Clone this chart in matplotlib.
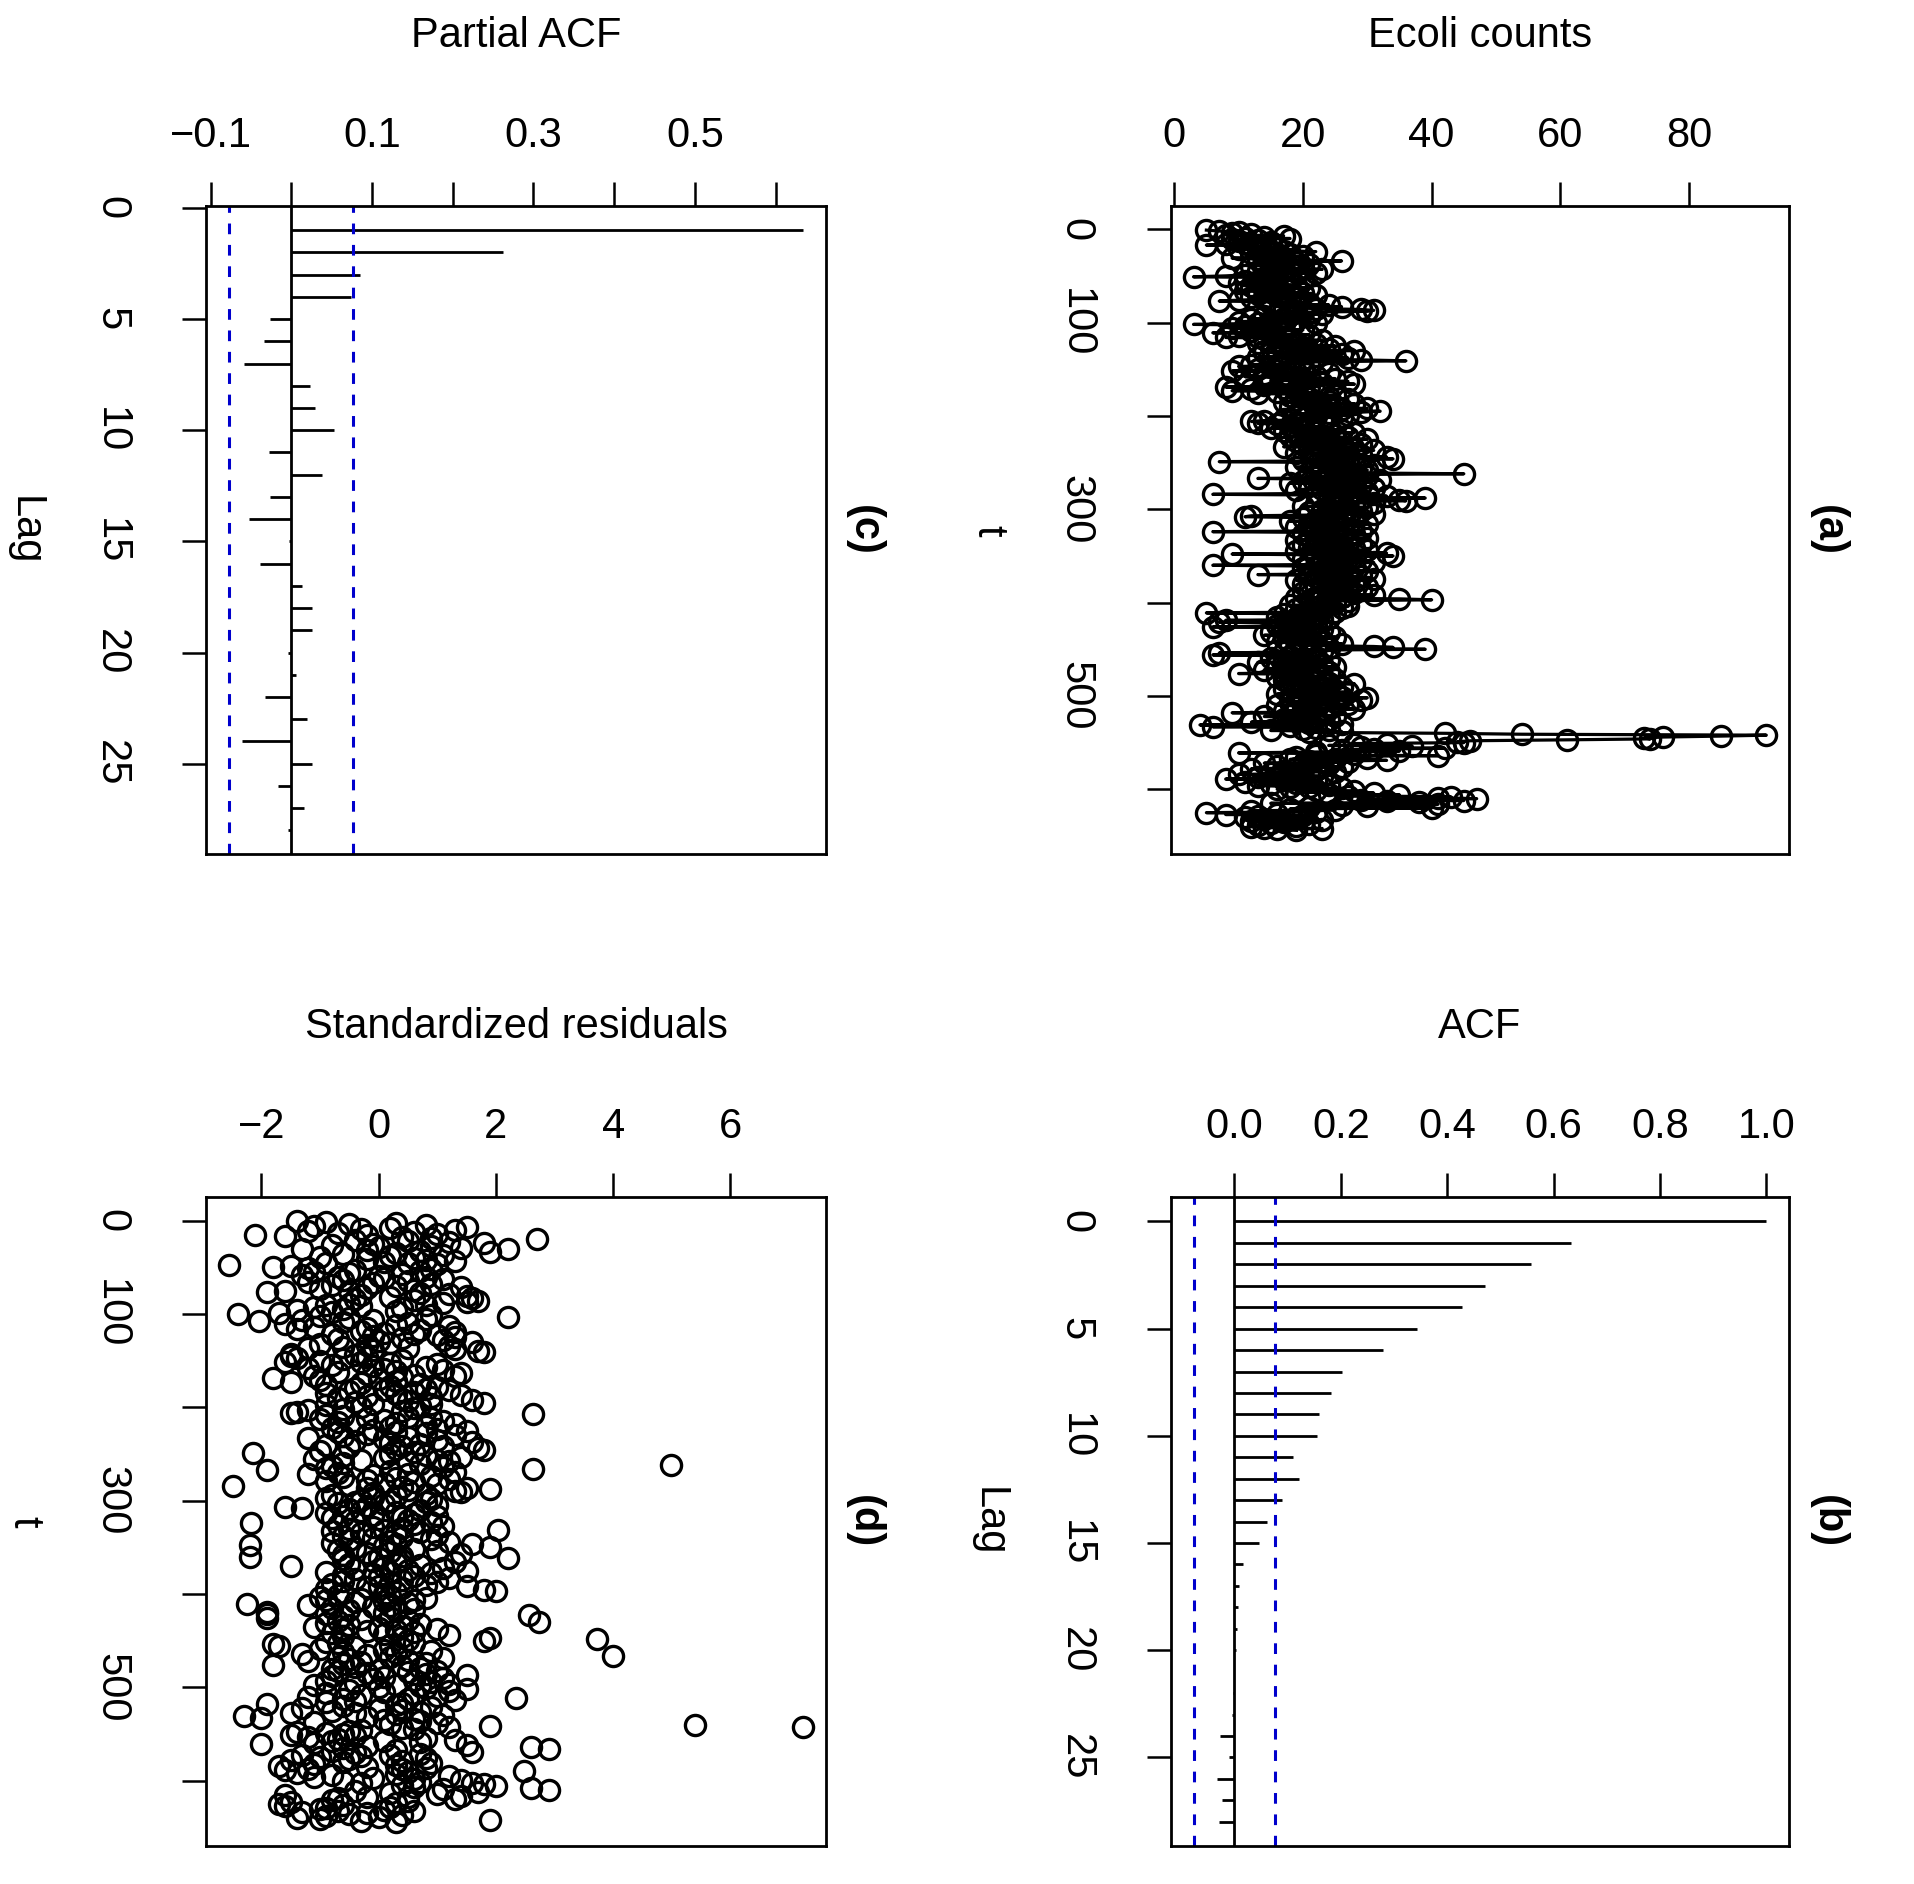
import numpy as np
import matplotlib
matplotlib.use("Agg")
from matplotlib import pyplot as plt

plt.rcParams['font.family'] = ['Liberation Sans', 'DejaVu Sans']

# weekly Ecoli counts
counts = [
    5, 7, 10, 9, 12, 8, 17, 14, 11, 18, 9, 13, 10, 15, 11, 8, 5, 12, 14, 16,
    10, 13, 17, 22, 15, 12, 18, 14, 20, 16, 9, 13, 17, 26, 19, 14, 21, 16, 12, 18,
    15, 20, 23, 17, 13, 19, 22, 16, 11, 8, 3, 18, 14, 20, 11, 13, 17, 10, 15, 19,
    12, 16, 21, 14, 18, 11, 15, 20, 13, 17, 22, 16, 12, 19, 14, 10, 7, 18, 21, 15,
    24, 19, 26, 17, 22, 29, 31, 30, 20, 16, 23, 18, 14, 21, 17, 12, 19, 15, 10, 22,
    13, 3, 16, 11, 18, 9, 14, 20, 12, 17, 6, 15, 21, 10, 13, 8, 18, 14, 23, 16,
    19, 13, 22, 17, 25, 20, 15, 24, 18, 28, 21, 14, 19, 26, 16, 22, 13, 27, 20, 29,
    36, 23, 17, 21, 12, 18, 10, 15, 20, 13, 16, 9, 19, 24, 14, 17, 22, 11, 18, 25,
    20, 15, 27, 18, 23, 28, 14, 21, 8, 17, 12, 19, 9, 16, 22, 13, 20, 25, 18, 24,
    21, 27, 19, 24, 17, 22, 28, 20, 25, 18, 23, 30, 26, 21, 32, 29, 24, 19, 27, 22,
    26, 20, 17, 23, 14, 12, 19, 13, 16, 21, 18, 24, 15, 20, 26, 17, 22, 28, 19, 25,
    23, 18, 27, 21, 30, 24, 19, 26, 22, 29, 20, 25, 17, 23, 28, 21, 31, 24, 27, 19,
    25, 29, 22, 33, 26, 34, 20, 27, 7, 24, 28, 22, 31, 25, 19, 29, 23, 30, 26, 21,
    27, 45, 24, 30, 22, 28, 13, 25, 32, 20, 27, 18, 24, 29, 21, 26, 31, 23, 19, 28,
    25, 30, 22, 6, 27, 33, 24, 39, 29, 35, 36, 26, 31, 22, 28, 25, 20, 30, 24, 27,
    23, 29, 21, 26, 31, 24, 12, 11, 20, 27, 22, 25, 18, 28, 23, 30, 21, 26, 19, 24,
    27, 22, 29, 6, 25, 20, 28, 23, 26, 21, 30, 24, 19, 27, 22, 25, 29, 20, 26, 23,
    28, 21, 25, 30, 19, 26, 33, 9, 24, 34, 22, 27, 20, 29, 25, 23, 31, 21, 26, 6,
    24, 28, 20, 26, 23, 30, 25, 21, 27, 13, 24, 29, 22, 26, 31, 19, 25, 28, 23, 20,
    27, 24, 30, 22, 26, 21, 29, 25, 20, 28, 24, 31, 23, 26, 19, 35, 40, 27, 22, 25,
    20, 24, 18, 27, 22, 26, 19, 23, 21, 25, 5, 17, 22, 20, 16, 24, 19, 23, 8, 21,
    7, 18, 22, 16, 20, 6, 19, 23, 17, 21, 15, 24, 18, 22, 14, 20, 25, 17, 21, 19,
    23, 16, 20, 26, 18, 22, 31, 34, 24, 39, 19, 23, 17, 7, 21, 6, 18, 22, 15, 20,
    24, 17, 21, 13, 19, 23, 16, 20, 25, 18, 22, 14, 19, 24, 17, 10, 21, 18, 23, 16,
    20, 25, 17, 22, 19, 24, 28, 18, 21, 26, 20, 23, 17, 25, 19, 27, 22, 16, 24, 21,
    26, 30, 20, 29, 23, 18, 25, 21, 27, 16, 22, 19, 24, 28, 20, 17, 23, 9, 21, 18,
    25, 14, 20, 22, 17, 24, 19, 12, 21, 26, 4, 18, 6, 22, 20, 24, 15, 26, 21, 42,
    54, 92, 85, 76, 73, 74, 61, 46, 44, 45, 28, 33, 24, 37, 29, 42, 31, 26, 35, 22,
    10, 28, 22, 41, 19, 30, 25, 18, 33, 21, 27, 14, 24, 20, 16, 26, 19, 12, 22, 17,
    25, 15, 21, 10, 18, 23, 13, 20, 8, 17, 22, 11, 19, 15, 24, 13, 18, 21, 26, 16,
    22, 28, 19, 31, 24, 35, 27, 43, 41, 47, 29, 45, 33, 38, 15, 41, 26, 30, 21, 40,
    18, 25, 12, 22, 5, 16, 8, 20, 13, 11, 19, 14, 23, 12, 17, 15, 21, 13, 19, 12,
    14, 23, 16, 19,
]

# standardized residuals (panel d)
resid = [
    -1.4, -0.9, 0.3, -0.5, 0.8, -1.1, 1.5, 0.2, -0.3, 1.3, -1.2, 0.6, -0.7, 1.0, -0.2, -2.1, -1.6, 0.4, 0.9, 2.7,
    -0.4, 0.5, 1.2, 1.8, -0.1, -0.8, 0.9, 0.0, 1.4, 2.2, -1.3, -0.2, 0.7, 1.9, 0.3, -0.6, 1.1, 0.2, -1.0, 0.6,
    -0.2, 0.8, 1.3, 0.1, -0.9, 0.5, 1.0, -2.55, -1.5, -1.8, -1.2, 0.9, -0.4, 0.7, -1.1, -0.5, 0.4, -1.3, 0.0, 0.8,
    -0.7, 0.1, 1.1, -0.6, 0.5, -1.2, -0.1, 0.9, -0.8, 0.3, 1.4, -0.2, -1.0, 0.6, -0.5, -1.6, -1.9, 0.7, 1.2, -0.3,
    1.5, 0.2, 1.6, -0.4, 0.6, 1.7, 1.5, 1.1, -0.5, -0.9, 0.8, -0.3, -1.1, 0.4, -0.6, -1.4, 0.3, -0.8, -1.7, -2.4,
    0.9, -1.0, 2.2, -0.5, 0.8, -1.3, -0.1, -2.04, -0.6, 0.5, -1.6, 0.3, 1.2, -1.1, -0.2, -1.4, 0.7, -0.3, 1.3, 0.1,
    0.6, -0.8, 1.0, -0.1, 1.3, 0.4, -0.7, 1.1, 0.0, 1.6, 0.2, -1.0, -0.2, 1.2, -0.6, 0.5, -1.2, 1.3, -0.1, 1.7,
    1.8, -0.3, -1.5, -0.4, -1.5, -0.2, -1.4, -0.6, 0.4, -1.0, -0.3, -1.6, 0.2, 1.0, -0.8, -0.1, 0.8, -1.2, 0.1, 1.1,
    0.3, -0.7, 1.4, -0.2, 0.6, 1.3, -1.1, 0.4, -1.8, 0.0, -1.0, 0.3, -1.5, -0.3, 0.7, -0.9, 0.2, 1.0, -0.4, 0.8,
    0.1, 1.2, -0.5, 0.6, -0.9, 0.3, 1.4, -0.2, 0.9, -0.7, 0.4, 1.6, 0.5, -0.4, 1.8, 0.9, -0.1, -0.9, 0.7, -0.3,
    0.6, -0.6, -1.2, 0.4, -1.4, -1.5, 2.63, -0.9, -0.6, 0.5, -0.2, 0.9, -1.0, 0.1, 1.1, -0.7, 0.3, 1.3, -0.4, 0.8,
    0.2, -0.8, 1.0, -0.1, 1.5, 0.3, -0.7, 0.8, -0.2, 1.3, -0.6, 0.5, -1.2, 0.1, 1.0, -0.4, 1.6, 0.2, 0.7, -0.9,
    0.4, 1.1, -0.5, 1.7, 0.3, 1.8, -1.0, 0.6, -2.15, 0.2, 0.8, -0.6, 1.4, 0.1, -1.1, 1.0, -0.3, 1.2, 0.5, -0.6,
    0.7, 4.99, -0.8, 1.1, -0.9, 2.63, -1.9, 0.2, 1.3, -0.7, 0.5, -1.2, -0.1, 0.9, -0.6, 0.3, 1.2, -0.2, -0.9, 0.6,
    0.1, 1.0, -0.5, -2.48, 0.4, 1.5, -0.2, 1.9, 0.5, 1.3, 1.4, -0.1, 0.8, -0.8, 0.3, -0.1, -0.9, 0.9, -0.3, 0.2,
    -0.4, 0.8, -0.7, 0.1, 1.0, -0.2, -1.6, -1.3, -0.5, 0.7, -0.3, 0.3, -0.9, 0.6, -0.1, 1.0, -0.6, 0.4, -0.8, 0.0,
    0.5, -0.4, 0.9, -2.17, 0.6, -0.7, 1.1, -0.1, 0.4, -0.5, 2.04, 0.1, -0.8, 0.7, -0.3, 0.3, 1.0, -0.6, 0.4, -0.1,
    0.9, -0.5, 0.2, 1.2, -0.8, 0.3, 1.6, -2.2, 0.1, 1.9, -0.4, 0.6, -0.7, 1.0, 0.2, -0.2, 1.4, -0.6, 0.4, -2.2,
    0.0, 2.2, -0.6, 0.4, -0.1, 1.3, 0.3, -0.5, 0.7, -1.5, 0.1, 1.1, -0.4, 0.5, 1.5, -0.9, 0.2, 0.9, -0.1, -0.6,
    0.6, 0.0, 1.2, -0.4, 0.4, -0.6, 1.0, 0.2, -0.8, 0.8, 0.0, 1.5, -0.2, 0.4, -0.9, 1.8, 2.0, 0.3, -0.6, 0.1,
    -0.7, 0.2, -1.0, 0.8, -0.3, 0.6, -0.9, 0.1, -0.4, 0.5, -2.25, -1.2, 0.2, -0.1, -0.8, 0.6, -0.5, 0.3, -1.9, 0.1,
    -1.9, -0.9, 2.57, -0.6, 0.2, -1.9, -0.3, 0.5, -0.7, 2.74, -0.9, 0.7, -0.5, 0.4, -1.1, 0.0, 1.0, -0.6, 0.3, -0.2,
    0.6, -0.8, 0.1, 1.2, -0.6, 0.4, 1.9, 3.73, 0.5, 1.8, -0.9, 0.6, -0.7, -1.8, 0.2, -1.7, -0.4, 0.4, -1.0, 0.1,
    0.9, -0.6, 0.3, -1.3, -0.2, 4.0, -0.7, 0.2, 1.1, -0.5, 0.5, -1.2, -0.3, 0.8, -0.6, -1.8, 0.4, -0.4, 0.7, -0.8,
    0.0, 1.0, -0.7, 0.5, -0.2, 0.8, 1.5, -0.8, 0.1, 1.1, -0.1, 0.6, -0.9, 0.9, -0.4, 1.2, 0.3, -1.1, 0.7, 0.0,
    0.8, 1.5, -0.5, 1.2, 0.1, -0.9, 0.6, -0.3, 1.0, -1.2, 2.34, -0.6, 0.5, 1.3, -0.4, -0.9, 0.4, -1.9, 0.3, -0.6,
    0.9, -1.3, 0.0, 0.4, -0.8, 0.7, -0.4, -1.5, 0.3, 1.1, -2.3, -0.2, -2.0, 0.6, 0.1, 0.7, -1.1, 1.0, 0.2, 5.39,
    1.9, 7.24, 1.2, 0.4, 0.6, -0.3, -0.5, -1.4, -0.9, -0.6, -1.5, -0.4, -1.2, 0.8, -0.7, 1.3, 0.1, -0.8, 0.7, -1.1,
    -2.0, 1.5, -0.2, 2.6, -0.6, 2.9, 0.3, -0.8, 1.6, -0.4, 0.7, -1.3, 0.2, -0.3, -1.0, 0.8, -0.5, -1.5, 0.4, -0.6,
    0.9, -1.1, 0.3, -1.7, -0.2, 0.8, -1.2, 0.4, -1.6, 2.48, 0.5, -1.4, 0.3, -0.8, 1.2, -1.1, -0.1, 0.6, 1.4, -0.6,
    0.7, 1.6, -0.3, 1.8, 0.4, 2.0, 0.6, 2.6, 1.1, 2.9, -0.4, 1.7, 0.2, 1.0, -1.6, 1.4, -0.2, 0.5, -0.7, 1.3,
    -0.8, 0.5, -1.5, 0.3, -1.7, -0.6, -1.6, 0.2, -0.9, -1.0, 0.1, -0.7, 0.6, -1.3, -0.2, -0.5, 0.4, -0.9, 0.0, -1.4,
    -1.0, 1.9, -0.3, 0.3,
]

# ACF of residuals (panel b), lags 0..28
acf_vals = [1.0, 0.633, 0.557, 0.471, 0.427, 0.344, 0.279, 0.203, 0.182, 0.159,
            0.155, 0.111, 0.122, 0.090, 0.062, 0.046, 0.016, 0.009, 0.007, 0.005,
            0.002, 0.000, -0.002, -0.005, -0.028, -0.010, -0.032, -0.023, -0.030]

# partial ACF (panel c), lags 1..28
pacf_vals = [0.634, 0.262, 0.085, 0.074, -0.026, -0.034, -0.058, 0.023, 0.029, 0.053,
             -0.028, 0.038, -0.026, -0.052, -0.003, -0.039, 0.013, 0.026, 0.026, -0.004,
             0.006, -0.033, 0.020, -0.061, 0.026, -0.016, 0.016, -0.004]

clim = 0.077

FS = 30
fig = plt.figure(figsize=(19.14, 18.84), dpi=100)

ax_c = fig.add_axes([0.1077, 0.5465, 0.3239, 0.3441])
ax_a = fig.add_axes([0.6116, 0.5465, 0.3232, 0.3441])
ax_d = fig.add_axes([0.1077, 0.0203, 0.3239, 0.3441])
ax_b = fig.add_axes([0.6116, 0.0203, 0.3232, 0.3441])


def r_range(lo, hi):
    d = (hi - lo) * 0.04
    return lo - d, hi + d


def style(ax, xticks, xlabels, yticks, ylabels):
    ax.xaxis.tick_top()
    ax.set_xticks(xticks)
    ax.set_xticklabels(xlabels)
    ax.set_yticks(yticks)
    ax.set_yticklabels(ylabels)
    ax.tick_params(axis='both', length=17, width=1.8, labelsize=FS, direction='out')
    ax.tick_params(axis='x', pad=19)
    ax.tick_params(axis='y', pad=37, labelrotation=-90)
    for lab in ax.get_yticklabels():
        lab.set_verticalalignment('center')
    for s in ax.spines.values():
        s.set_linewidth(2.0)


# (a) counts
t_a = np.arange(1, len(counts) + 1)
ax_a.plot(counts, t_a, '-o', color='black', mfc='none', mec='black', ms=14.5, mew=2.4, lw=2.3)
ax_a.set_xlim(*r_range(min(counts), max(counts)))
ax_a.set_ylim(*r_range(1, len(counts))[::-1])
style(ax_a, [0, 20, 40, 60, 80], ['0', '20', '40', '60', '80'],
      [0, 100, 200, 300, 400, 500, 600], ['0', '100', '', '300', '', '500', ''])

# (d) residuals
t_d = np.arange(1, len(resid) + 1)
ax_d.plot(resid, t_d, 'o', color='black', mfc='none', mec='black', ms=14.5, mew=2.4)
ax_d.set_xlim(*r_range(min(resid), max(resid)))
ax_d.set_ylim(*r_range(1, len(resid))[::-1])
style(ax_d, [-2, 0, 2, 4, 6], ['\u22122', '0', '2', '4', '6'],
      [0, 100, 200, 300, 400, 500, 600], ['0', '100', '', '300', '', '500', ''])

# (b) ACF
lags_b = np.arange(len(acf_vals))
ax_b.hlines(lags_b, 0, acf_vals, color='black', lw=2.0)
ax_b.axvline(0, color='black', lw=2.0)
for c in (-clim, clim):
    ax_b.axvline(c, color='#0000CC', lw=2.2, linestyle=(0, (3.5, 3.5)))
ax_b.set_xlim(*r_range(min(min(acf_vals), -clim), max(max(acf_vals), clim)))
ax_b.set_ylim(*r_range(0, len(acf_vals) - 1)[::-1])
style(ax_b, [0, 0.2, 0.4, 0.6, 0.8, 1.0], ['0.0', '0.2', '0.4', '0.6', '0.8', '1.0'],
      [0, 5, 10, 15, 20, 25], ['0', '5', '10', '15', '20', '25'])

# (c) PACF
lags_c = np.arange(1, len(pacf_vals) + 1)
ax_c.hlines(lags_c, 0, pacf_vals, color='black', lw=2.0)
ax_c.axvline(0, color='black', lw=2.0)
for c in (-clim, clim):
    ax_c.axvline(c, color='#0000CC', lw=2.2, linestyle=(0, (3.5, 3.5)))
ax_c.set_xlim(*r_range(min(min(pacf_vals), -clim), max(max(pacf_vals), clim)))
ax_c.set_ylim(*r_range(1, len(pacf_vals))[::-1])
style(ax_c, [-0.1, 0, 0.1, 0.2, 0.3, 0.4, 0.5, 0.6],
      ['\u22120.1', '', '0.1', '', '0.3', '', '0.5', ''],
      [0, 5, 10, 15, 20, 25], ['0', '5', '10', '15', '20', '25'])

# titles, axis labels and panel tags
for ax, title, ylab, tag in [(ax_c, 'Partial ACF', 'Lag', '(c)'),
                             (ax_a, 'Ecoli counts', 't', '(a)'),
                             (ax_d, 'Standardized residuals', 't', '(d)'),
                             (ax_b, 'ACF', 'Lag', '(b)')]:
    pos = ax.get_position()
    ymid = (pos.y0 + pos.y1) / 2
    fig.text((pos.x0 + pos.x1) / 2, pos.y1 + 0.0905, title, fontsize=FS,
             ha='center', va='center')
    fig.text(pos.x0 - 0.095, ymid, ylab, fontsize=FS, rotation=-90,
             ha='center', va='center')
    fig.text(pos.x1 + 0.02, ymid, tag, fontsize=FS, fontweight='bold', rotation=-90,
             ha='center', va='center')

fig.savefig('out.png', dpi=100)
